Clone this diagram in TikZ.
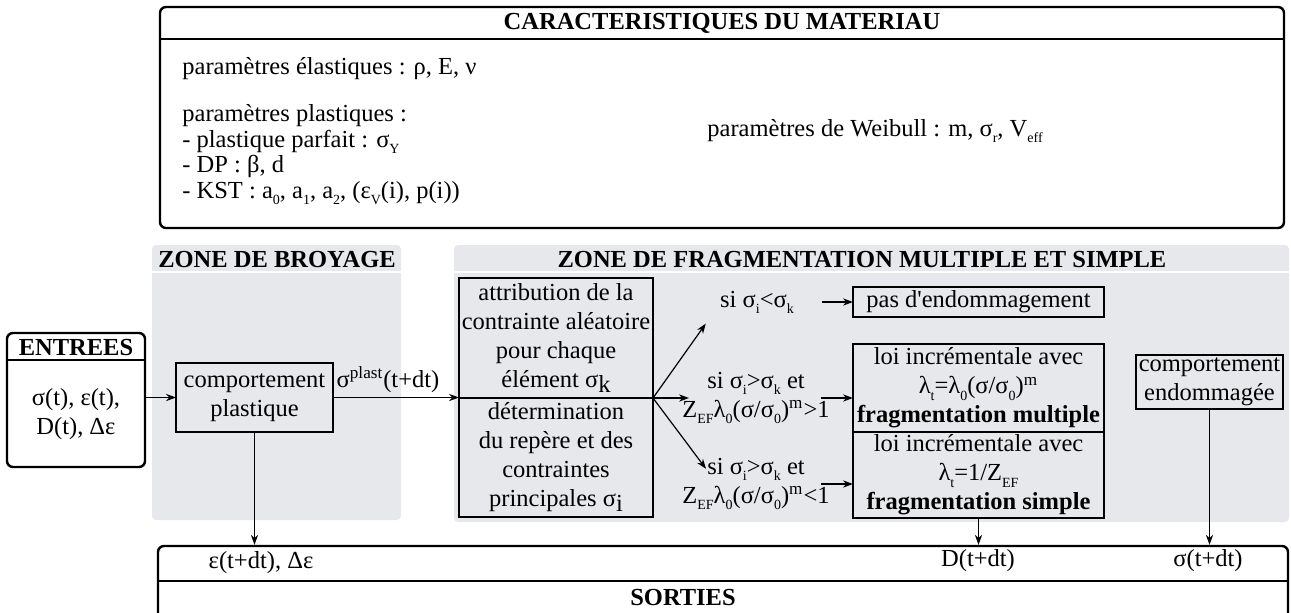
\documentclass[tikz,border=0pt]{standalone}
\usepackage{fontspec}
\setmainfont{Liberation Serif}
\usetikzlibrary{arrows.meta,positioning}
\definecolor{zonegray}{RGB}{231,232,235}
\newcommand{\subs}[1]{\raisebox{-0.55ex}{\scriptsize #1}}
\newcommand{\sups}[1]{\textsuperscript{#1}}
\newcommand{\lowr}[1]{\raisebox{-0.4ex}{#1}}

\begin{document}
\begin{tikzpicture}[x=0.5pt, y=-0.5pt,
  every node/.style={font=\fontsize{12.25}{14.5}\selectfont, inner sep=0pt},
  box/.style={draw, line width=0.6pt, align=center, outer sep=0pt},
  bigbox/.style={draw, line width=1.2pt, rounded corners=3pt},
  title/.style={font=\fontsize{12.25}{14.5}\selectfont\bfseries},
  zone/.style={fill=zonegray, rounded corners=2pt},
  arr/.style={-{Stealth[length=5pt,width=3.6pt]}, line width=0.6pt}]
  \useasboundingbox (0,0) rectangle (1291,612);

  \fill[zone] (152,245) rectangle (401,520);
  \fill[zone] (454,245) rectangle (1289,522);
  \draw[white, line width=1pt] (152,272) -- (401,272) (454,272) -- (1289,272);
  \node[title] (broy) at (277,259) {ZONE DE BROYAGE};
  \node[title] (frag) at (862,259) {ZONE DE FRAGMENTATION MULTIPLE ET SIMPLE};

  \node[bigbox, minimum width=562pt, minimum height=110.5pt] (mat) at (722,117.5) {};
  \draw[line width=1.2pt] ([yshift=-16.5pt]mat.north west) -- ([yshift=-16.5pt]mat.north east);
  \node[title] (matT) at (722,23) {CARACTERISTIQUES DU MATERIAU};
  \node[anchor=west] (elast) at (182,69) {paramètres élastiques : ρ, E, ν};
  \node[anchor=north west, align=left, font=\fontsize{12.25}{12.85}\selectfont] (plast) at (182,104)
    {paramètres plastiques :\\- plastique parfait : σ\subs{Y}\\- DP : β, d\\- KST : a\subs{0}, a\subs{1}, a\subs{2}, (ε\subs{V}(i), p(i))};
  \node[anchor=west] (weib) at (707,131) {paramètres de Weibull : m, σ\subs{r}, V\subs{eff}};

  \node[bigbox, minimum width=69pt, minimum height=67pt] (entrees) at (76,400) {};
  \draw[line width=1.2pt] ([yshift=-14pt]entrees.north west) -- ([yshift=-14pt]entrees.north east);
  \node[title] (entT) at (76,347) {ENTREES};
  \node[align=center] (entV) at (76,414) {σ(t), ε(t),\\D(t), Δε};

  \node[box, minimum width=78.5pt, minimum height=34.5pt] (comp) at (254.5,397.5) {comportement\\plastique};

  \node[box, minimum width=97pt, minimum height=60pt] (attrib) at (556,338)
    {attribution de la\\contrainte aléatoire\\pour chaque\\élément σ\lowr{k}};
  \node[box, minimum width=97pt, minimum height=59.5pt, below=0pt of attrib] (determ)
    {détermination\\du repère et des\\contraintes\\principales σ\lowr{i}};

  \node[align=center] (cond1) at (757,302) {si σ\subs{i}<σ\subs{k}};
  \node[align=center] (cond2) at (756,398) {si σ\subs{i}>σ\subs{k} et\\Z\subs{EF}λ\subs{0}(σ/σ\subs{0})\sups{m}>1};
  \node[align=center] (cond3) at (756,484) {si σ\subs{i}>σ\subs{k} et\\Z\subs{EF}λ\subs{0}(σ/σ\subs{0})\sups{m}<1};

  \node[box, minimum width=125.5pt, minimum height=15pt] (nodmg) at (978.5,302) {pas d\textquotesingle endommagement};
  \node[box, minimum width=125.5pt, minimum height=44pt] (multi) at (978.5,388)
    {loi incrémentale avec\\λ\subs{t}=λ\subs{0}(σ/σ\subs{0})\sups{m}\\\textbf{fragmentation multiple}};
  \node[box, minimum width=125.5pt, minimum height=43pt, below=0pt of multi] (simple)
    {loi incrémentale avec\\λ\subs{t}=1/Z\subs{EF}\\\textbf{fragmentation simple}};
  \node[box, minimum width=73.5pt, minimum height=27pt] (endo) at (1209.5,382) {comportement\\endommagée};

  \node[bigbox, minimum width=565pt, minimum height=47pt] (sorties) at (723,593) {};
  \draw[line width=1.2pt] ([yshift=-18pt]sorties.north west) -- ([yshift=-18pt]sorties.north east);
  \node[title] (sortT) at (683,597) {SORTIES};
  \node (sEps) at (261,563) {ε(t+dt), Δε};
  \node (sD) at (978,561) {D(t+dt)};
  \node (sSig) at (1208,561) {σ(t+dt)};

  \draw[arr] (entrees.east |- comp.west) -- (comp.west);
  \draw[arr] (comp.east) -- node[above=2pt, xshift=-4pt] (plastLbl) {σ\sups{plast}(t+dt)} (comp.east -| attrib.west);
  \coordinate (fan) at (attrib.south east);
  \draw[arr] (fan) -- ([xshift=-7pt,yshift=-5pt]cond1.south west);
  \draw[arr] (fan) -- ([xshift=3.5pt]cond2.west);
  \draw[arr] (fan) -- ([xshift=12pt,yshift=-5.5pt]cond3.north west);
  \draw[arr] ([xshift=14pt]cond1.east) -- (nodmg.west);
  \draw[arr] ([xshift=-4.5pt]cond2.east) -- (cond2.east -| multi.west);
  \draw[arr] ([xshift=-4.5pt]cond3.east) -- (cond3.east -| simple.west);
  \draw[arr] (comp.south) -- (comp.south |- sorties.north);
  \draw[arr] (simple.south) -- (simple.south |- sorties.north);
  \draw[arr] (endo.south) -- (endo.south |- sorties.north);
\end{tikzpicture}
\end{document}
